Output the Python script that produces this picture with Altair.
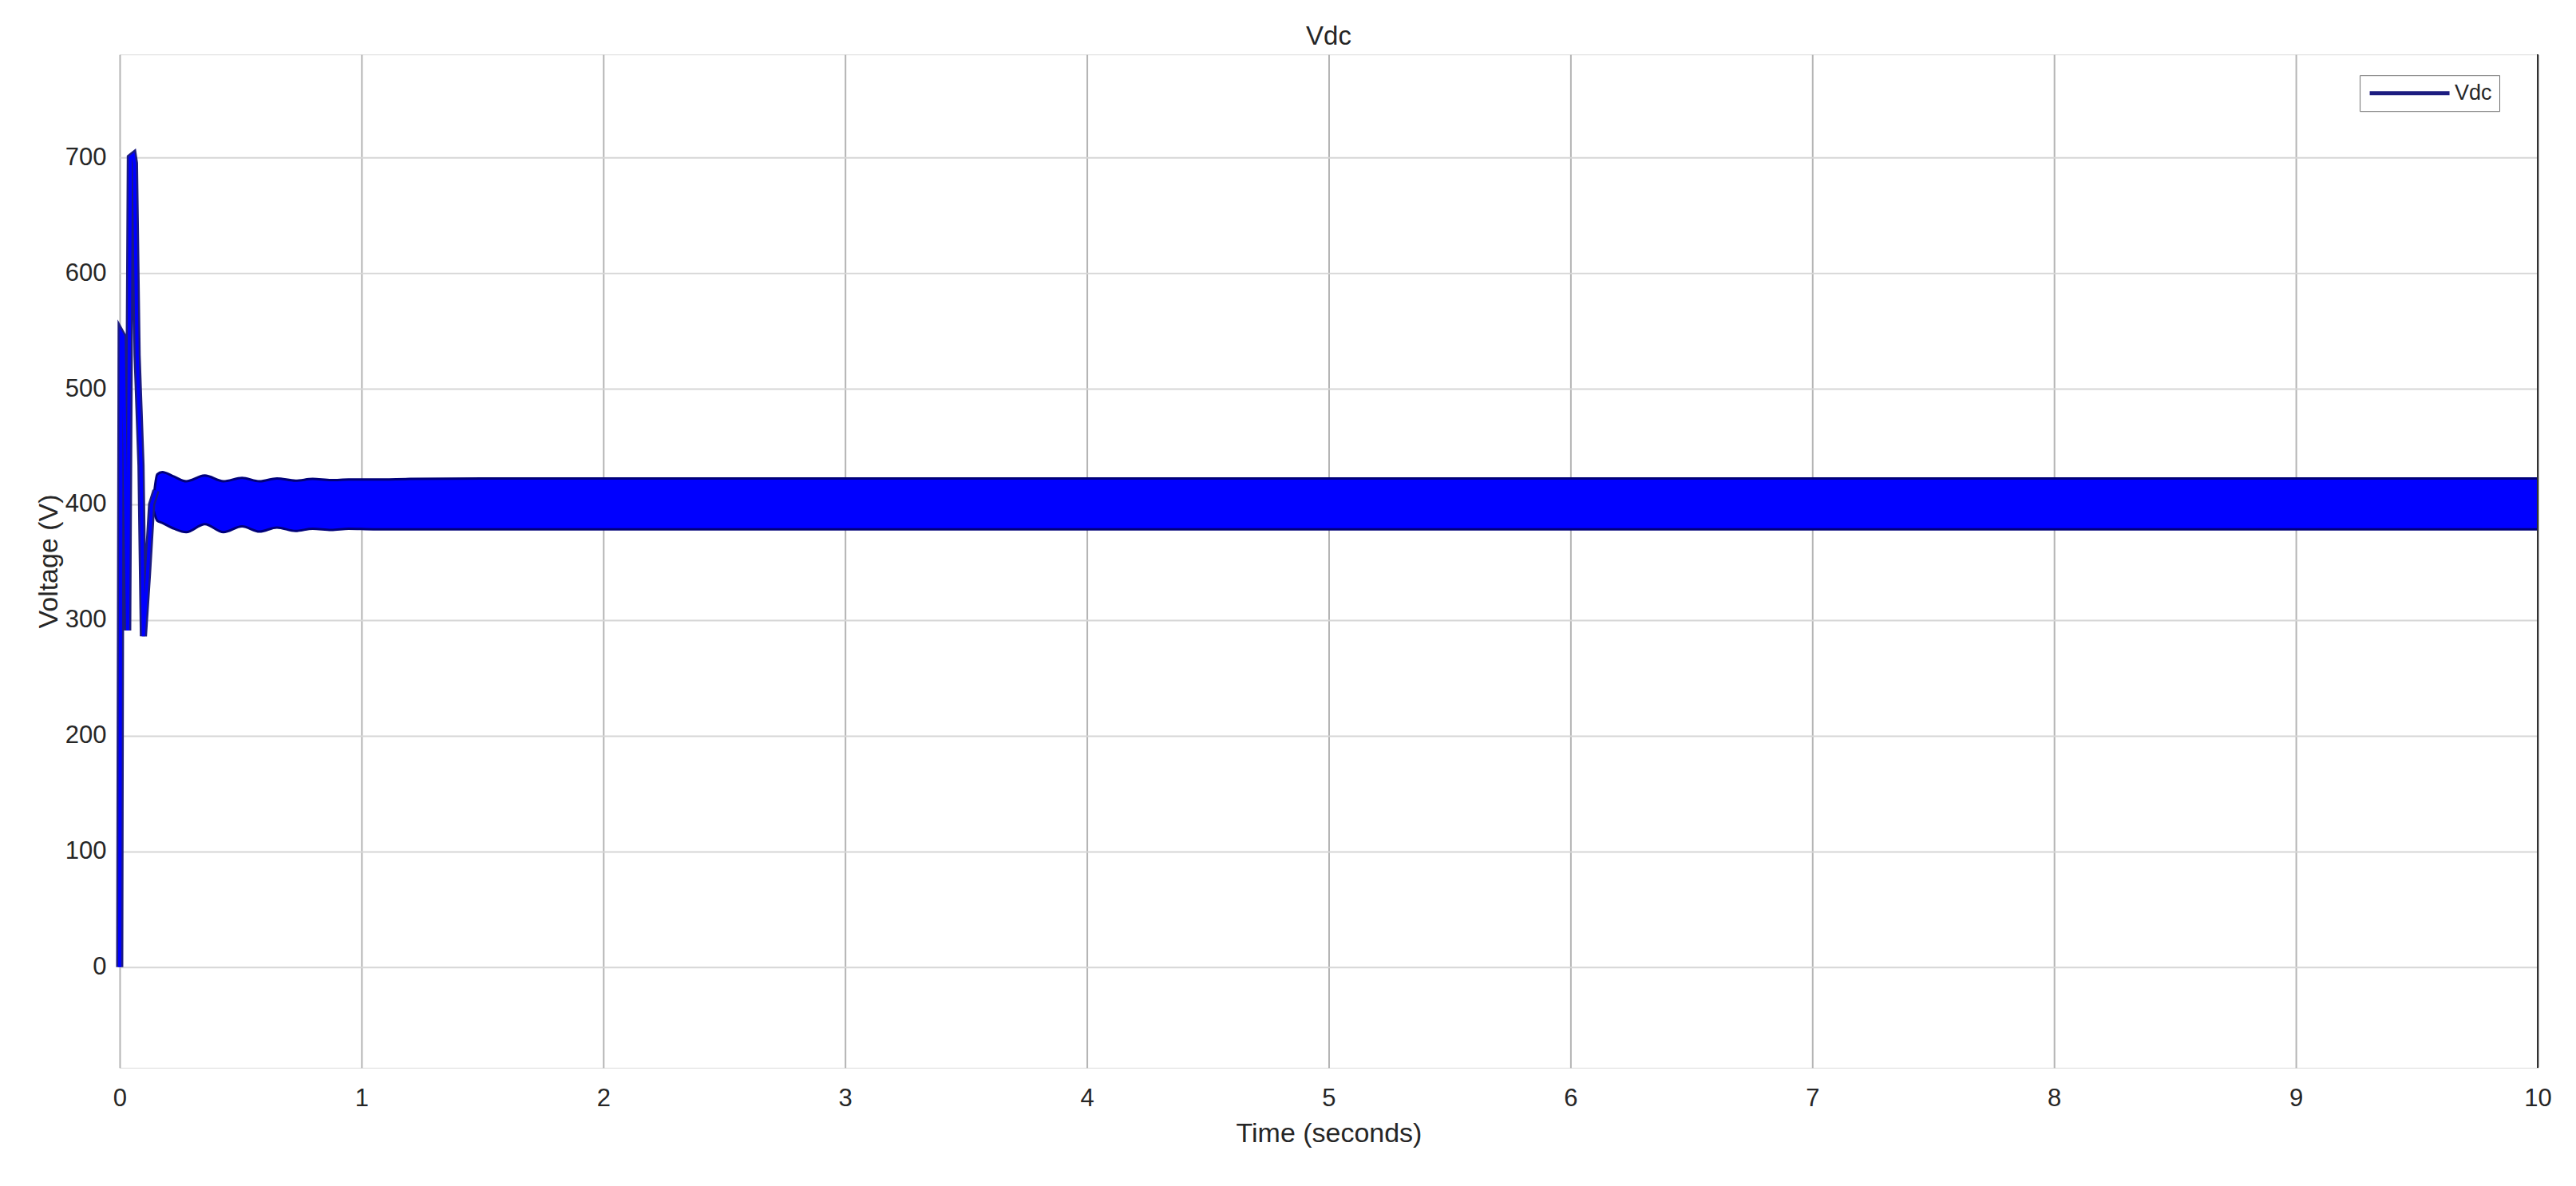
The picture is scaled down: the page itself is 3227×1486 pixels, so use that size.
import altair as alt
import pandas as pd

# ---- data ----
# start-up transient (time in s, voltage in V)
trans_t = [0.0, 0.006, 0.014, 0.033, 0.044, 0.056, 0.061, 0.072, 0.088, 0.098, 0.115, 0.132, 0.15]
trans_v = [0, 548, 545, 291, 700, 702, 695, 529, 434, 286, 340, 400, 412]

# steady-state ripple band (upper / lower envelope of the dense ripple)
band_t = [0.14, 0.155, 0.176, 0.225, 0.275, 0.352, 0.429, 0.506, 0.578, 0.650, 0.727,
          0.798, 0.875, 0.947, 1.05, 1.2, 1.5, 2, 3, 4, 5, 6, 7, 8, 9, 10]
band_hi = [405, 426, 428, 424, 420, 425, 420, 423, 420, 422.5, 420.5,
           422, 421, 421.5, 421.5, 422, 422.5, 422.5, 422.5, 422.5, 422.5, 422.5, 422.5, 422.5, 422.5, 422.5]
band_lo = [395, 386, 384, 379, 376, 383, 376, 381, 376.5, 380, 377,
           379, 378, 379, 378.5, 378.5, 378.5, 378.5, 378.5, 378.5, 378.5, 378.5, 378.5, 378.5, 378.5, 378.5]

x_ticks = [0, 1, 2, 3, 4, 5, 6, 7, 8, 9, 10]
y_ticks = [0, 100, 200, 300, 400, 500, 600, 700]
series_name = ["Vdc"]

trans_df = pd.DataFrame({"t": trans_t, "v": trans_v, "series": series_name * len(trans_t)})
band_df = pd.DataFrame({"t": band_t, "hi": band_hi, "lo": band_lo})

FONT = "Liberation Sans"
TXT = "#262626"

xscale = alt.Scale(domain=[0, 10], nice=False, zero=False)
yscale = alt.Scale(domain=[-87, 789], nice=False, zero=False)

xaxis = alt.Axis(values=x_ticks, format="d", title="Time (seconds)", grid=True, gridColor="#b4b4b4",
                 gridWidth=2, ticks=False, domain=False, labelFontSize=31, labelPadding=24,
                 labelFlush=False,
                 titleFontSize=34, titleFontWeight="normal", titlePadding=12,
                 labelColor=TXT, titleColor=TXT, labelFont=FONT, titleFont=FONT)
yaxis = alt.Axis(values=y_ticks, format="d", title="Voltage (V)", grid=True, gridColor="#d6d6d6",
                 gridWidth=2, ticks=False, domain=False, labelFontSize=31, labelPadding=17,
                 labelFlush=False,
                 titleFontSize=34, titleFontWeight="normal", titlePadding=3,
                 labelColor=TXT, titleColor=TXT, labelFont=FONT, titleFont=FONT)

base_band = alt.Chart(band_df)
area = base_band.mark_area(color="#0000ff", interpolate="monotone", opacity=1).encode(
    x=alt.X("t:Q", scale=xscale, axis=xaxis),
    y=alt.Y("lo:Q", scale=yscale, axis=yaxis),
    y2="hi:Q",
)
edge_hi = base_band.mark_line(color="#00007a", strokeWidth=3, interpolate="monotone").encode(
    x="t:Q", y="hi:Q")
edge_lo = base_band.mark_line(color="#00007a", strokeWidth=3, interpolate="monotone").encode(
    x="t:Q", y="lo:Q")

trans_outer = alt.Chart(trans_df).mark_line(strokeWidth=9, strokeJoin="miter").encode(
    x="t:Q", y="v:Q",
    color=alt.Color("series:N", scale=alt.Scale(domain=series_name, range=["#1c1c80"]),
                    legend=alt.Legend(title=None, orient="none", legendX=2807, legendY=26,
                                      strokeColor="#6e6e6e", fillColor="white",
                                      padding=9, symbolType="M-5,0H5", symbolSize=400,
                                      symbolOffset=40, symbolStrokeWidth=5,
                                      labelFontSize=27, labelFont=FONT,
                                      labelColor=TXT, labelOffset=43)),
)
trans_inner = alt.Chart(trans_df).mark_line(strokeWidth=4, color="#0000ff").encode(
    x="t:Q", y="v:Q")

right_border = alt.Chart(trans_df).mark_rule(color="#333333", strokeWidth=2).encode(
    x=alt.datum(10))

chart = alt.layer(area, edge_hi, edge_lo, trans_outer, trans_inner, right_border).properties(
    width=3030, height=1270,
    title=alt.Title("Vdc", fontSize=33, fontWeight="normal", font=FONT, color=TXT, offset=4),
    autosize=alt.AutoSizeParams(type="none"),
    padding={"left": 142, "top": 60, "right": 40, "bottom": 140},
).configure_view(stroke="#a0a0a0", strokeWidth=2).configure(background="white")

chart.save("out.html", embed_options={"renderer": "svg", "actions": False})
